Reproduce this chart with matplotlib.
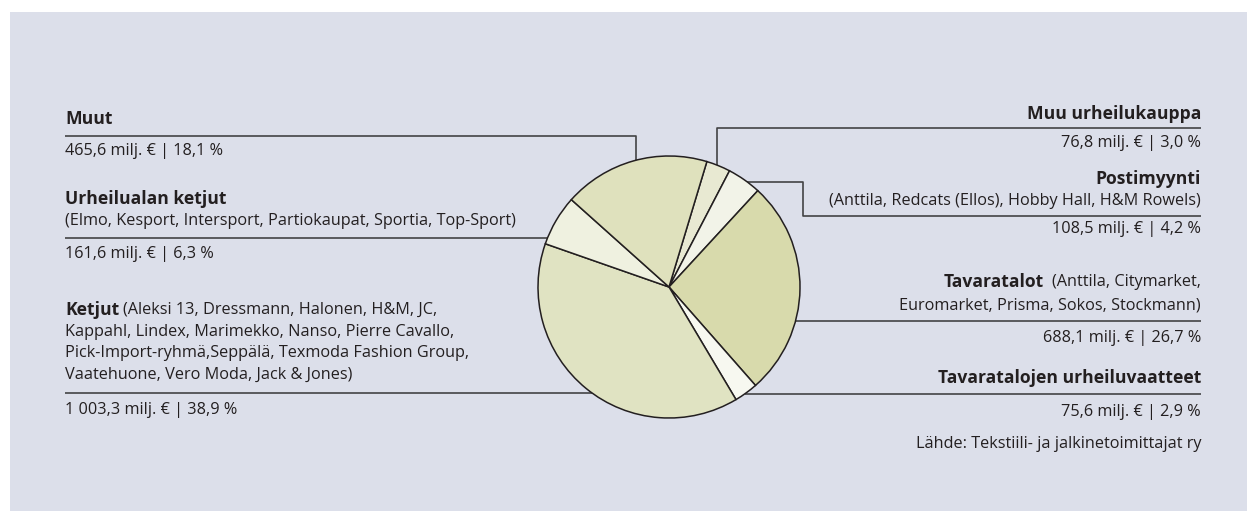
import numpy as np
import matplotlib
matplotlib.use("Agg")
import matplotlib.pyplot as plt
from matplotlib.patches import Rectangle

# Market shares (milj. €), clockwise from the top
labels = ["Muu urheilukauppa", "Postimyynti", "Tavaratalot",
          "Tavaratalojen urheiluvaatteet", "Ketjut", "Urheilualan ketjut", "Muut"]
values = [76.8, 108.5, 688.1, 75.6, 1003.3, 161.6, 465.6]
shares = ["3,0", "4,2", "26,7", "2,9", "38,9", "6,3", "18,1"]
value_text = ["76,8", "108,5", "688,1", "75,6", "1 003,3", "161,6", "465,6"]
colors = ["#e8e9d2", "#f2f3e8", "#d8daac", "#f7f8f0", "#e0e3c2", "#eff1e0", "#dfe1bd"]

W, H = 1247, 511
BG = "#dcdfea"
TXT = "#231f20"
LINE = "#434345"
FONT = "Open Sans"
FS = 11.7
FS_B = 12.6

cx, cy, r = 669, 287, 131
XL, XR = 65, 1201


def circle_x(y, side):
    # x where a horizontal line at y meets the pie outline
    return cx + side * np.sqrt(r ** 2 - (y - cy) ** 2)


def circle_y(x):
    # y where a vertical line at x meets the top of the pie
    return cy - np.sqrt(r ** 2 - (x - cx) ** 2)


def main():
    fig = plt.figure(figsize=(W / 100, H / 100), dpi=100)
    fig.patch.set_facecolor("white")
    ax = fig.add_axes([0, 0, 1, 1])

    ax.add_patch(Rectangle((10, 12), 1237, 500, facecolor=BG, edgecolor="none", zorder=0))

    # y axis is inverted below, so counterclock=True draws clockwise on screen
    ax.pie(values, colors=colors, startangle=270 + 16.8, counterclock=True,
           center=(cx, cy), radius=r,
           wedgeprops=dict(edgecolor=TXT, linewidth=1.1, zorder=3))

    ax.set_xlim(0, W)
    ax.set_ylim(H, 0)
    ax.set_aspect("equal")
    ax.axis("off")

    lk = dict(color=LINE, linewidth=1.2, zorder=1, solid_capstyle="butt")

    # leader lines
    ax.plot([XL, 636, 636], [136, 136, circle_y(636)], **lk)
    ax.plot([XL, circle_x(238, -1)], [238, 238], **lk)
    ax.plot([XL, circle_x(393, -1)], [393, 393], **lk)
    ax.plot([717, 717, XR], [circle_y(717), 128, 128], **lk)
    ax.plot([circle_x(182, 1), 803, 803, XR], [182, 182, 216, 216], **lk)
    ax.plot([circle_x(321, 1), XR], [321, 321], **lk)
    ax.plot([circle_x(394, 1), XR], [394, 394], **lk)

    tk = dict(color=TXT, fontsize=FS, family=FONT, va="center")
    bk = dict(tk, fontsize=FS_B, fontweight="bold")

    def val(i):
        return f"{value_text[i]} milj. € | {shares[i]} %"

    # left side
    ax.text(XL, 119, labels[6], ha="left", **bk)
    ax.text(XL, 151, val(6), ha="left", **tk)
    ax.text(XL, 199, labels[5], ha="left", **bk)
    ax.text(XL, 221, "(Elmo, Kesport, Intersport, Partiokaupat, Sportia, Top-Sport)", ha="left", **tk)
    ax.text(XL, 254, val(5), ha="left", **tk)

    fig.canvas.draw()
    rend = fig.canvas.get_renderer()
    inv = ax.transData.inverted()

    t = ax.text(XL, 310, labels[4], ha="left", **bk)
    bb = t.get_window_extent(rend)
    x_after = inv.transform((bb.x1, bb.y0))[0]
    ax.text(x_after + 4, 310, "(Aleksi 13, Dressmann, Halonen, H&M, JC,", ha="left", **tk)
    ax.text(XL, 332, "Kappahl, Lindex, Marimekko, Nanso, Pierre Cavallo,", ha="left", **tk)
    ax.text(XL, 353, "Pick-Import-ryhmä,Seppälä, Texmoda Fashion Group,", ha="left", **tk)
    ax.text(XL, 375, "Vaatehuone, Vero Moda, Jack & Jones)", ha="left", **tk)
    ax.text(XL, 410, val(4), ha="left", **tk)

    # right side
    ax.text(XR, 114, labels[0], ha="right", **bk)
    ax.text(XR, 143, val(0), ha="right", **tk)
    ax.text(XR, 179, labels[1], ha="right", **bk)
    ax.text(XR, 201, "(Anttila, Redcats (Ellos), Hobby Hall, H&M Rowels)", ha="right", **tk)
    ax.text(XR, 229, val(1), ha="right", **tk)

    t = ax.text(XR, 282, "(Anttila, Citymarket,", ha="right", **tk)
    bb = t.get_window_extent(rend)
    x_before = inv.transform((bb.x0, bb.y0))[0]
    ax.text(x_before - 8, 282, labels[2], ha="right", **bk)
    ax.text(XR, 305, "Euromarket, Prisma, Sokos, Stockmann)", ha="right", **tk)
    ax.text(XR, 338, val(2), ha="right", **tk)
    ax.text(XR, 378, labels[3], ha="right", **bk)
    ax.text(XR, 412, val(3), ha="right", **tk)
    ax.text(XR, 444, "Lähde: Tekstiili- ja jalkinetoimittajat ry", ha="right", **tk)

    fig.savefig("out.png", dpi=100, facecolor=fig.get_facecolor())


if __name__ == "__main__":
    main()
